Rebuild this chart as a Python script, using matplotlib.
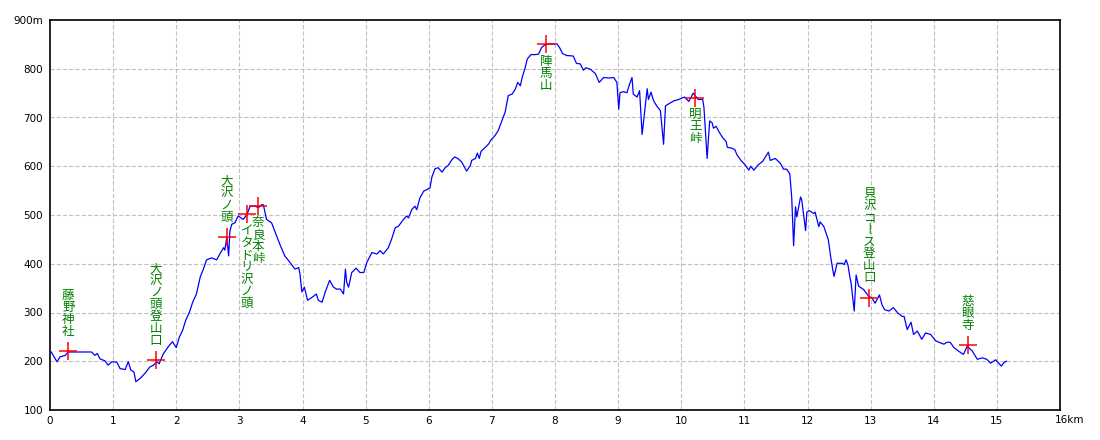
import matplotlib
matplotlib.use("Agg")
import matplotlib.pyplot as plt

plt.rcParams["font.family"] = ["DejaVu Sans"]
plt.rcParams["lines.scale_dashes"] = False

# elevation profile (km, m)
dist_km = [
    0.02, 0.11, 0.16, 0.24, 0.29, 0.66, 0.71, 0.75, 0.79, 0.87, 0.92, 0.98,
    1.06, 1.11, 1.19, 1.24, 1.28, 1.33, 1.36, 1.43, 1.51, 1.58, 1.64, 1.69,
    1.73, 1.79, 1.88, 1.94, 2.00, 2.05, 2.10, 2.15, 2.21, 2.26, 2.32, 2.38,
    2.43, 2.48, 2.56, 2.64, 2.69, 2.75, 2.77, 2.80, 2.83, 2.85, 2.88, 2.93,
    2.98, 3.06, 3.12, 3.17, 3.25, 3.30, 3.35, 3.38, 3.43, 3.51, 3.57, 3.65,
    3.72, 3.80, 3.88, 3.94, 3.96, 3.99, 4.03, 4.08, 4.15, 4.22, 4.25, 4.31,
    4.36, 4.43, 4.49, 4.54, 4.60, 4.65, 4.68, 4.70, 4.73, 4.78, 4.85, 4.91,
    4.97, 5.02, 5.10, 5.18, 5.23, 5.28, 5.36, 5.41, 5.47, 5.52, 5.60, 5.65,
    5.68, 5.73, 5.78, 5.81, 5.86, 5.92, 5.97, 6.02, 6.05, 6.10, 6.15, 6.21,
    6.26, 6.31, 6.37, 6.41, 6.46, 6.52, 6.57, 6.60, 6.66, 6.68, 6.74, 6.77,
    6.80, 6.83, 6.89, 6.95, 6.98, 7.05, 7.10, 7.16, 7.21, 7.26, 7.32, 7.37,
    7.41, 7.45, 7.48, 7.53, 7.56, 7.62, 7.69, 7.74, 7.79, 7.84, 7.92, 8.03,
    8.07, 8.12, 8.19, 8.21, 8.29, 8.34, 8.40, 8.45, 8.49, 8.56, 8.64, 8.70,
    8.77, 8.85, 8.93, 8.98, 9.01, 9.03, 9.08, 9.14, 9.18, 9.22, 9.24, 9.30,
    9.34, 9.38, 9.40, 9.46, 9.48, 9.52, 9.56, 9.61, 9.67, 9.72, 9.75, 9.83,
    9.88, 9.96, 10.05, 10.12, 10.19, 10.27, 10.34, 10.36, 10.41, 10.45, 10.49,
    10.51, 10.55, 10.61, 10.66, 10.71, 10.73, 10.80, 10.85, 10.88, 10.94,
    11.01, 11.07, 11.10, 11.15, 11.22, 11.29, 11.38, 11.41, 11.49, 11.57,
    11.62, 11.67, 11.72, 11.75, 11.78, 11.81, 11.83, 11.89, 11.91, 11.94,
    11.97, 11.99, 12.03, 12.10, 12.12, 12.18, 12.20, 12.26, 12.33, 12.37,
    12.40, 12.42, 12.47, 12.55, 12.58, 12.61, 12.64, 12.67, 12.69, 12.72,
    12.74, 12.77, 12.81, 12.89, 12.97, 13.02, 13.07, 13.14, 13.18, 13.22,
    13.29, 13.36, 13.43, 13.50, 13.53, 13.58, 13.64, 13.68, 13.74, 13.81,
    13.87, 13.95, 14.03, 14.10, 14.16, 14.21, 14.26, 14.32, 14.39, 14.47,
    14.53, 14.61, 14.69, 14.77, 14.84, 14.90, 14.98, 15.01, 15.07, 15.11,
    15.15,
]
elev_m = [
    219, 199, 209, 212, 219, 219, 212, 216, 205, 201, 192, 199,
    198, 185, 183, 199, 182, 178, 158, 165, 176, 188, 192, 199,
    195, 214, 231, 240, 228, 250, 263, 284, 301, 321, 338, 373,
    389, 408, 412, 408, 420, 433, 428, 454, 416, 467, 481, 484,
    498, 491, 501, 518, 518, 515, 521, 521, 491, 484, 464, 437,
    416, 403, 389, 392, 379, 342, 352, 325, 331, 338, 325, 321,
    342, 366, 352, 348, 348, 338, 389, 362, 352, 382, 391, 382,
    382, 403, 423, 420, 427, 420, 433, 450, 474, 477, 491, 498,
    494, 511, 518, 511, 535, 549, 552, 556, 578, 595, 597, 588,
    597, 602, 614, 619, 616, 609, 597, 590, 602, 612, 616, 627,
    616, 631, 638, 646, 653, 663, 673, 694, 711, 745, 748, 758,
    772, 765, 782, 803, 820, 829, 829, 830, 844, 849, 851, 851,
    844, 831, 827, 827, 826, 811, 810, 797, 802, 799, 790, 772,
    782, 781, 782, 772, 717, 751, 753, 751, 768, 782, 748, 742,
    755, 665, 688, 759, 737, 752, 735, 724, 714, 645, 724, 730,
    734, 737, 742, 733, 750, 737, 737, 720, 616, 693, 689,
    678, 682, 668, 658, 651, 639, 637, 634, 624, 613,
    603, 592, 600, 592, 603, 610, 629, 612, 616, 606,
    594, 594, 584, 536, 437, 517, 496, 537, 530, 499,
    468, 506, 509, 503, 506, 476, 486, 476, 449, 412,
    388, 374, 401, 401, 398, 408, 398, 374, 361, 327,
    303, 377, 354, 347, 333, 330, 319, 336, 316, 306,
    303, 310, 299, 292, 292, 265, 280, 255, 262, 245,
    258, 255, 242, 238, 235, 239, 239, 228, 221, 214,
    231, 221, 204, 207, 204, 196, 203, 199, 190, 197,
    200,
]

# waypoints
wp_names = ["藤野神社", "大沢ノ頭登山口", "大沢ノ頭", "イタドリ沢ノ頭", "奈良本峠",
            "陣馬山", "明王峠", "貝沢コ丨ス登山口", "慈眼寺"]
wp_km = [0.29, 1.68, 2.80, 3.12, 3.30, 7.86, 10.22, 12.98, 14.54]
wp_elev = [221, 202, 455, 502, 519, 850, 741, 330, 233]
wp_above = [True, True, True, False, False, False, False, True, True]

x_ticks = list(range(0, 16))
y_ticks = list(range(100, 1000, 100))
y_labels = [str(v) for v in y_ticks[:-1]] + ["900m"]

fig = plt.figure(figsize=(11, 4.4), dpi=100)
ax = fig.add_axes([50 / 1100, 30 / 440, 1010 / 1100, 390 / 440])

ax.set_xlim(0, 16)
ax.set_ylim(100, 900)

for v in range(1, 16):
    ax.axvline(v, color="#c0c0c0", lw=0.8, linestyle=(0, (3, 1.5)), zorder=1)
for v in range(200, 900, 100):
    ax.axhline(v, color="#c0c0c0", lw=0.8, linestyle=(0, (3, 1.5)), zorder=1)

ax.plot(dist_km, elev_m, color="#0000ff", lw=0.9, zorder=3)
ax.plot(wp_km, wp_elev, linestyle="none", marker="+", markersize=13,
        markeredgewidth=1.1, color="#ff0000", zorder=4)

step = 12
for name, x, y, above in zip(wp_names, wp_km, wp_elev, wp_above):
    n = len(name)
    for i, ch in enumerate(name):
        if above:
            dy = 20 + (n - 1 - i) * step
        else:
            dy = -17 - i * step
        ax.annotate(ch, xy=(x, y), xytext=(0, dy), textcoords="offset pixels",
                    ha="center", va="center", fontsize=9, color="#008000",
                    family=["Noto Sans CJK JP", "DejaVu Sans"], zorder=5)

ax.set_xticks(x_ticks)
ax.set_xticklabels([str(v) for v in x_ticks])
ax.set_yticks(y_ticks)
ax.set_yticklabels(y_labels)
ax.tick_params(length=0, labelsize=7.5, colors="black")
ax.tick_params(axis="y", pad=5)
ax.tick_params(axis="x", pad=4)
ax.annotate("16km", xy=(16, 100), xytext=(-5, -5), textcoords="offset pixels",
            ha="left", va="top", fontsize=7.5)

for s in ax.spines.values():
    s.set_linewidth(1.2)
    s.set_color("black")

fig.savefig("out.png", dpi=100, facecolor="white")
